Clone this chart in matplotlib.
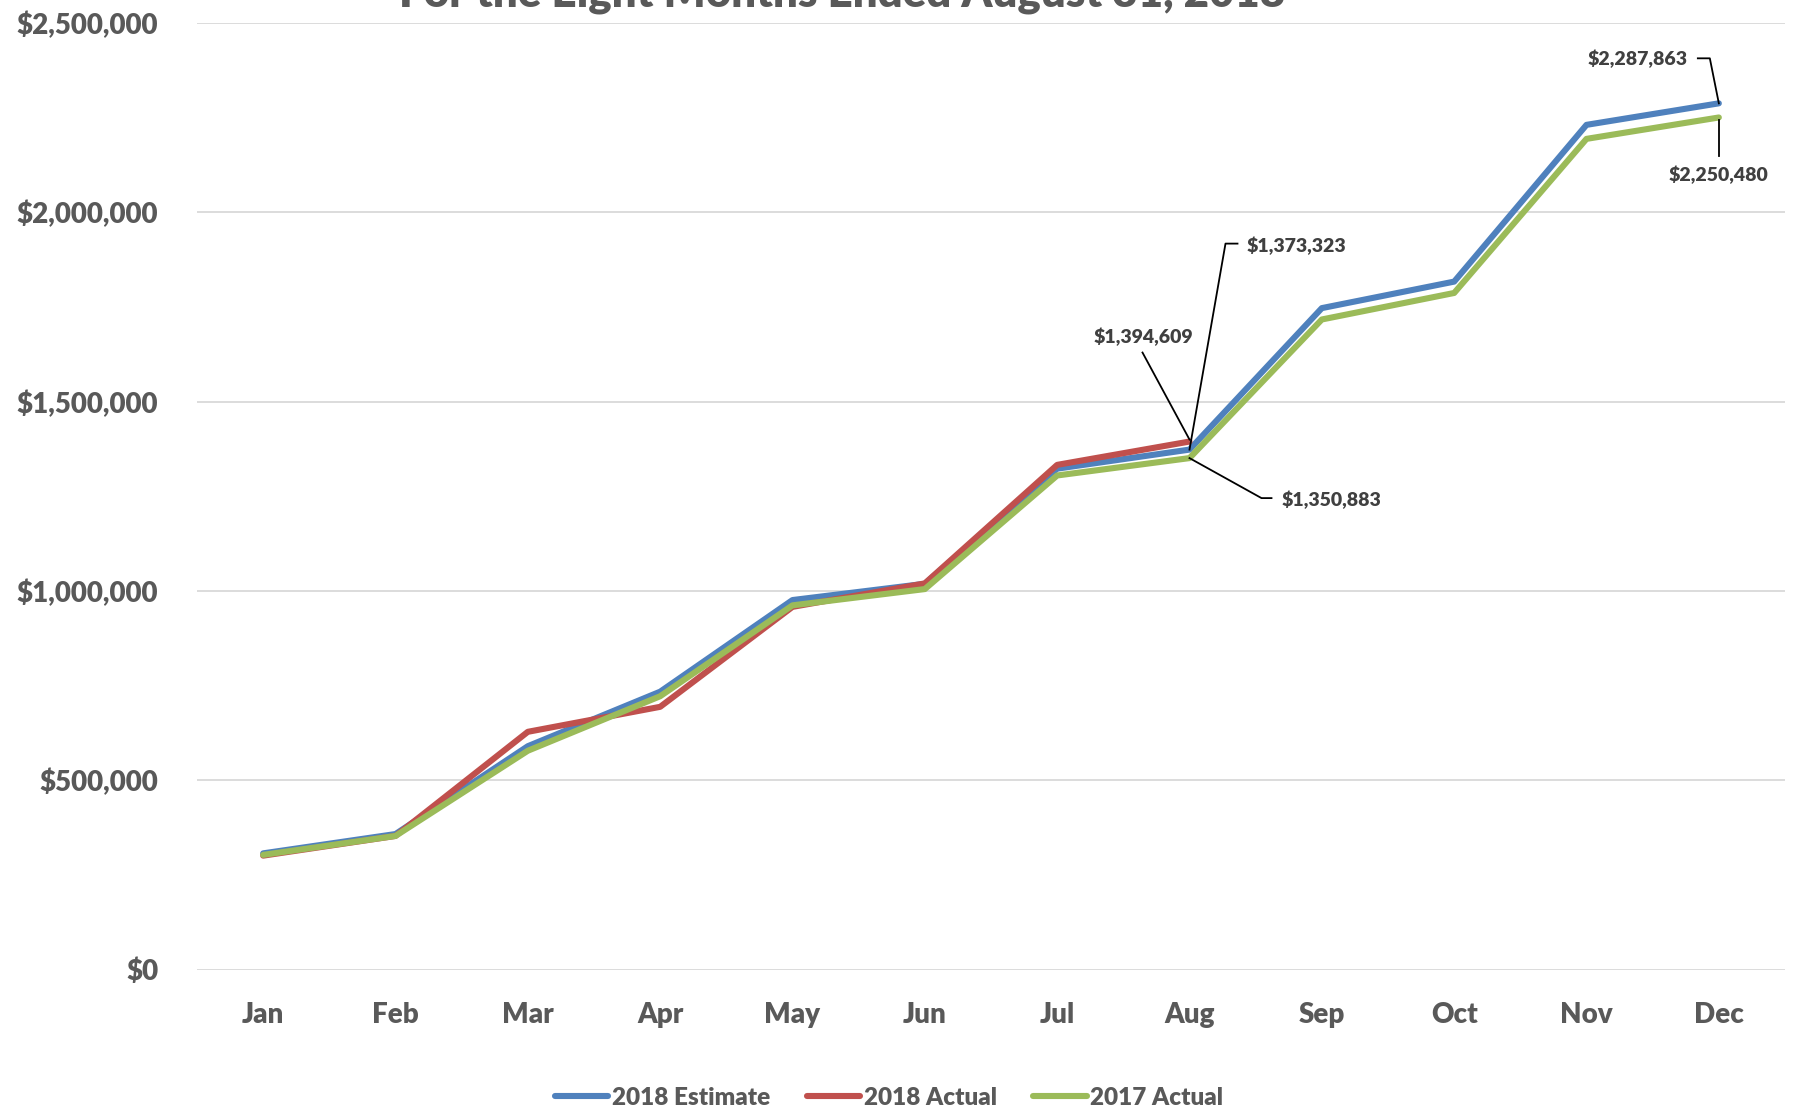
import matplotlib
matplotlib.use("Agg")
import matplotlib.pyplot as plt
import matplotlib.transforms as mtransforms
from matplotlib.ticker import FuncFormatter
import numpy as np

months = ['Jan', 'Feb', 'Mar', 'Apr', 'May', 'Jun',
          'Jul', 'Aug', 'Sep', 'Oct', 'Nov', 'Dec']
est_2018 = [307000, 358000, 590000, 734000, 976000, 1019000,
            1323000, 1373323, 1747000, 1817000, 2231000, 2287863]
actual_2018 = [301000, 353000, 628000, 694000, 958000, 1020000,
               1333000, 1394609]
actual_2017 = [303000, 353000, 578000, 722000, 962000, 1005000,
               1305000, 1350883, 1717000, 1787000, 2194000, 2250480]

title = 'For the Eight Months Ended August 31, 2018'

BLUE = '#4F81BD'
RED = '#C0504D'
GREEN = '#9BBB59'
GRAY = '#595959'
DARK = '#404040'
WEIGHT = 'heavy'

plt.rcParams['font.family'] = ['Lato', 'DejaVu Sans']

fig = plt.figure(figsize=(17.97, 11.13), dpi=100)
ax = fig.add_axes([197 / 1797, 1 - 969.6 / 1113, (1785 - 197) / 1797, (969.6 - 23) / 1113])

x = np.arange(len(months))
lw = 4.4
ax.plot(x, est_2018, color=BLUE, lw=lw, solid_joinstyle='round', solid_capstyle='round', label='2018 Estimate', zorder=3)
ax.plot(x[:len(actual_2018)], actual_2018, color=RED, lw=lw, solid_joinstyle='round', solid_capstyle='round', label='2018 Actual', zorder=4)
ax.plot(x, actual_2017, color=GREEN, lw=lw, solid_joinstyle='round', solid_capstyle='round', label='2017 Actual', zorder=5)

ax.set_xlim(-0.5, len(months) - 0.5)
ax.set_ylim(0, 2500000)
ax.set_yticks(np.arange(0, 2500001, 500000))
ax.yaxis.set_major_formatter(FuncFormatter(lambda v, p: f'${v:,.0f}'))
ax.set_xticks(x)
ax.set_xticklabels(months)
ax.grid(True, axis='y', color='#D9D9D9', lw=1.3, zorder=0)
for s in ax.spines.values():
    s.set_visible(False)
ax.tick_params(axis='both', length=0, labelsize=20, labelcolor=GRAY)
ax.tick_params(axis='x', pad=23)
ax.tick_params(axis='y', pad=28)
for lbl in ax.get_xticklabels() + ax.get_yticklabels():
    lbl.set_fontweight(WEIGHT)

# title sits partly above the top edge, as in the source image
fig.text(842 / 1797, 1 - 6 / 1113, title, ha='center', va='baseline',
         fontsize=31.5, fontweight=WEIGHT, color=GRAY)


def label_point(xi, yv, text, tx, ty, ha, path):
    # offsets in pixels from the data point, image coords (y down)
    trans = fig.dpi_scale_trans + mtransforms.ScaledTranslation(xi, yv, ax.transData)
    px = [p[0] / 100 for p in path]
    py = [-p[1] / 100 for p in path]
    ax.plot(px, py, color='black', lw=1.3, transform=trans, zorder=6, clip_on=False)
    ax.text(tx / 100, -ty / 100, text, transform=trans, ha=ha, va='center',
            fontsize=14, fontweight=WEIGHT, color=DARK, zorder=7)


label_point(11, est_2018[11], f'${est_2018[11]:,}', -31, -44, 'right',
            [(0, 0), (-9, -45), (-21, -45)])
label_point(11, actual_2017[11], f'${actual_2017[11]:,}', 0, 57, 'center',
            [(0, 3), (0, 39)])
label_point(7, est_2018[7], f'${est_2018[7]:,}', 57, -204, 'left',
            [(0, 0), (36, -206), (48, -206)])
label_point(7, actual_2018[7], f'${actual_2018[7]:,}', -46, -105, 'center',
            [(0, -2), (-47, -89)])
label_point(7, actual_2017[7], f'${actual_2017[7]:,}', 92, 42, 'left',
            [(0, 0), (72, 40), (82, 40)])

leg = fig.legend(loc='center', bbox_to_anchor=(889 / 1797, 1 - 1098 / 1113), ncol=3,
                 frameon=False, fontsize=17.5, handlelength=2.2, handletextpad=0.15,
                 columnspacing=1.5)
for t in leg.get_texts():
    t.set_fontweight(WEIGHT)
    t.set_color(GRAY)
for h in leg.get_lines():
    h.set_linewidth(4.4)

fig.savefig('out.png', dpi=100)
